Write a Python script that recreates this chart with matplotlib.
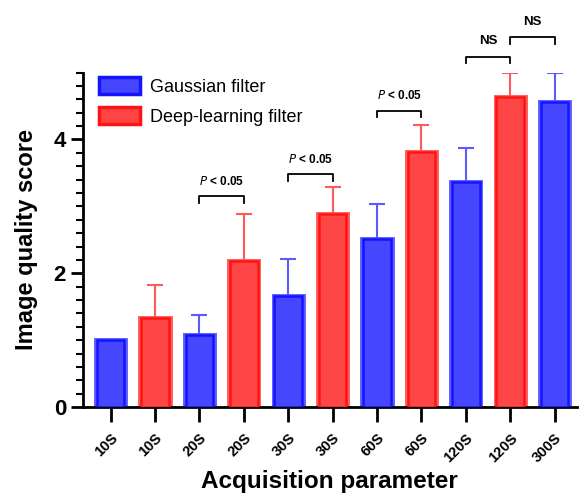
import numpy as np
import matplotlib
matplotlib.use('Agg')
import matplotlib.pyplot as plt
from matplotlib.patches import Patch

plt.rcParams['font.family'] = ['Liberation Sans', 'DejaVu Sans']

# data
labels = ['10S', '10S', '20S', '20S', '30S', '30S', '60S', '60S', '120S', '120S', '300S']
groups = ['G', 'D', 'G', 'D', 'G', 'D', 'G', 'D', 'G', 'D', 'G']
means = [1.0, 1.33, 1.07, 2.19, 1.66, 2.89, 2.51, 3.81, 3.37, 4.64, 4.56]
errs = [0.0, 0.50, 0.30, 0.70, 0.55, 0.40, 0.53, 0.40, 0.51, 0.36, 0.44]

# comparisons: (left bar, right bar, bracket height, text)
comparisons = [(2, 3, 3.15, 'P'), (4, 5, 3.48, 'P'), (6, 7, 4.43, 'P'),
               (8, 9, 5.24, 'NS'), (9, 10, 5.53, 'NS')]

face = {'G': '#4646ff', 'D': '#ff4646'}
edge = {'G': '#1414ff', 'D': '#ff1414'}
light = {'G': '#5a5aff', 'D': '#ff5a5a'}

fig = plt.figure(figsize=(5.84, 4.98), dpi=100)
ax = fig.add_axes([0.1416, 0.1827, 0.846, 0.6715])

x = np.arange(len(means))
for i in x:
    g = groups[i]
    # light outer rim + darker inner outline
    ax.bar(i, means[i], width=0.66, color=face[g], edgecolor=light[g], linewidth=3.5, zorder=2)
    ax.bar(i, means[i], width=0.62, color=face[g], edgecolor=edge[g], linewidth=1.8, zorder=3)
    if errs[i] > 0:
        ax.errorbar(i, means[i], yerr=[[0], [errs[i]]], fmt='none', ecolor=light[g],
                    elinewidth=1.5, capsize=6, capthick=1.5, zorder=1)

for a, b, h, t in comparisons:
    ax.plot([a, a, b, b], [h - 0.1, h, h, h - 0.1], color='black', lw=1.3, clip_on=False)
    if t == 'P':
        ax.text((a + b) / 2, h + 0.13, r'$\bf\it{P}$' + ' < 0.05', ha='center', va='bottom',
                fontsize=8.5, fontweight='bold', clip_on=False)
    else:
        ax.text((a + b) / 2, h + 0.14, 'NS', ha='center', va='bottom',
                fontsize=9.5, fontweight='bold', clip_on=False)

ax.set_xlim(-0.63, 10.5)
ax.set_ylim(0, 5)
ax.set_yticks([0, 2, 4])
ax.set_yticks(np.arange(0, 5.01, 0.2), minor=True)
ax.set_xticks(x)
ax.set_xticklabels(labels, rotation=45, ha='right', rotation_mode='anchor',
                   fontsize=10.5, fontweight='bold')
for lab in ax.get_yticklabels():
    lab.set_fontsize(16)
    lab.set_fontweight('bold')

ax.spines['top'].set_visible(False)
ax.spines['right'].set_visible(False)
ax.spines['left'].set_linewidth(2)
ax.spines['bottom'].set_linewidth(2)
ax.tick_params(axis='x', length=11, width=2, pad=6)
ax.tick_params(axis='y', which='major', length=9, width=2, pad=3)
ax.tick_params(axis='y', which='minor', length=5, width=1.5)

ax.set_ylabel('Image quality score', fontsize=17, fontweight='bold', labelpad=11)
ax.set_xlabel('Acquisition parameter', fontsize=17.5, fontweight='bold', labelpad=4)

handles = [Patch(facecolor=face['G'], edgecolor=edge['G'], linewidth=2.5, label='Gaussian filter'),
           Patch(facecolor=face['D'], edgecolor=edge['D'], linewidth=2.5, label='Deep-learning filter')]
ax.legend(handles=handles, loc='upper left', bbox_to_anchor=(0.0, 1.035), frameon=False,
          fontsize=13, handlelength=2.3, handleheight=1.05, handletextpad=0.55, labelspacing=0.65)

fig.savefig('out.png', dpi=100)
